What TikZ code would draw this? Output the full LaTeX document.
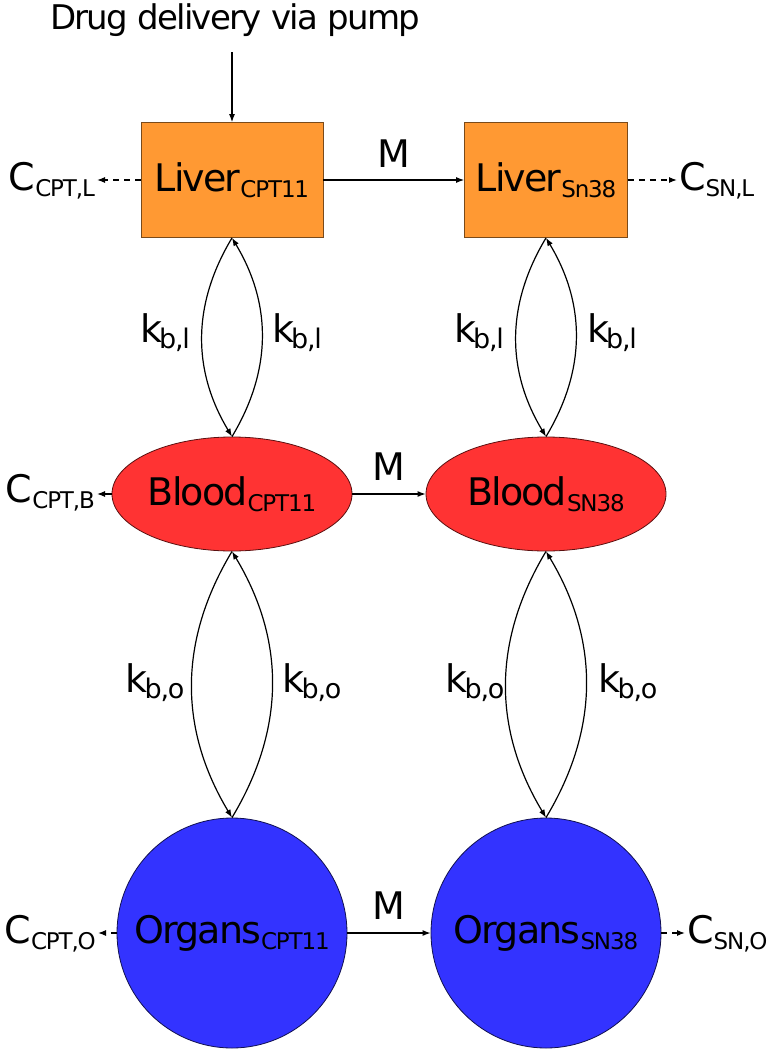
\documentclass[tikz,border=0pt]{standalone}
\usepackage{fontspec}
\setmainfont[LetterSpace=-5]{DejaVu Sans}
\usetikzlibrary{shapes.geometric,arrows.meta}
\definecolor{liverfill}{HTML}{FF9933}
\definecolor{liverline}{HTML}{7A4A1A}
\definecolor{bloodfill}{HTML}{FF3333}
\definecolor{bloodline}{HTML}{5A1010}
\definecolor{organfill}{HTML}{3333FF}
\definecolor{organline}{HTML}{101050}
\newcommand{\sublbl}[3][23]{#2\raisebox{-6pt}{\fontsize{#1}{#1}\selectfont #3}}
\tikzset{
  every node/.style={font=\fontsize{38}{42}\selectfont},
  liverbox/.style={rectangle,draw=liverline,fill=liverfill,line width=0.8pt,minimum height=115pt,inner sep=0pt},
  bloodpool/.style={ellipse,draw=bloodline,fill=bloodfill,line width=0.8pt,minimum width=240pt,minimum height=114pt,inner sep=0pt},
  organpool/.style={circle,draw=organline,fill=organfill,line width=0.8pt,minimum size=230pt,inner sep=0pt},
  flow/.style={line width=1.2pt,-{Latex[length=8pt,width=6pt]}},
  clear/.style={flow,dash pattern=on 6pt off 5pt},
  rate/.style={inner sep=0pt},
}
\begin{document}
\begin{tikzpicture}[x=1pt,y=-1pt]
      \useasboundingbox (0,0) rectangle (774,1052);
      \draw
        (235,20) node[font=\fontsize{34}{38}\selectfont] (pump){Drug delivery via pump}
        (232,180) node[liverbox,minimum width=182pt] (livc){\sublbl{Liver}{CPT11}}
        (546,180) node[liverbox,minimum width=163pt] (livs){\sublbl{Liver}{Sn38}}
        (232,494) node[bloodpool] (bldc){\sublbl{Blood}{CPT11}}
        (546,494) node[bloodpool] (blds){\sublbl{Blood}{SN38}}
        (232,933) node[organpool] (orgc){\sublbl{Organs}{CPT11}}
        (546,933) node[organpool] (orgs){\sublbl{Organs}{SN38}};
      \draw
        (97,190) node[anchor=base east,inner sep=2pt] (cl){\sublbl{C}{CPT,L}}
        (677,190) node[anchor=base west,inner sep=2pt] (sl){\sublbl{C}{SN,L}}
        (97,502) node[anchor=base east,inner sep=2pt] (cb){\sublbl{C}{CPT,B}}
        (98,943) node[anchor=base east,inner sep=2pt] (co){\sublbl{C}{CPT,O}}
        (685,943) node[anchor=base west,inner sep=2pt] (so){\sublbl{C}{SN,O}};
      \draw
        (165,333) node[rate] (kl1){\sublbl[27]{k}{\kern-3pt b,l}}
        (297,333) node[rate] (kl2){\sublbl[27]{k}{\kern-3pt b,l}}
        (479,333) node[rate] (kl3){\sublbl[27]{k}{\kern-3pt b,l}}
        (612,333) node[rate] (kl4){\sublbl[27]{k}{\kern-3pt b,l}}
        (155,683) node[rate] (ko1){\sublbl[27]{k}{\kern-3pt b,o}}
        (312,683) node[rate] (ko2){\sublbl[27]{k}{\kern-3pt b,o}}
        (475,683) node[rate] (ko3){\sublbl[27]{k}{\kern-3pt b,o}}
        (628,683) node[rate] (ko4){\sublbl[27]{k}{\kern-3pt b,o}};
      \coordinate (feed) at (232,52);
      \begin{scope}[flow]
        \draw (feed) to (livc.north);
        \draw (livc) to node[above=9pt]{M} (livs);
        \draw (bldc) to node[above=10pt]{M} (blds);
        \draw (orgc) to node[above=10pt]{M} (orgs);
        \draw (livc.south) to[bend right=31] (bldc.north);
        \draw (bldc.north) to[bend right=31] (livc.south);
        \draw (livs.south) to[bend right=31] (blds.north);
        \draw (blds.north) to[bend right=31] (livs.south);
        \draw (bldc.south) to[bend right=31] (orgc.north);
        \draw (orgc.north) to[bend right=31] (bldc.south);
        \draw (blds.south) to[bend right=31] (orgs.north);
        \draw (orgs.north) to[bend right=31] (blds.south);
        \draw (bldc.west) to (cb.east |- bldc.west);
      \end{scope}
      \begin{scope}[clear]
        \draw (livc.west) to (cl.east |- livc.west);
        \draw (livs.east) to (sl.west |- livs.east);
        \draw (orgc.west) to (co.east |- orgc.west);
        \draw (orgs.east) to (so.west |- orgs.east);
      \end{scope}
    \end{tikzpicture}
\end{document}
